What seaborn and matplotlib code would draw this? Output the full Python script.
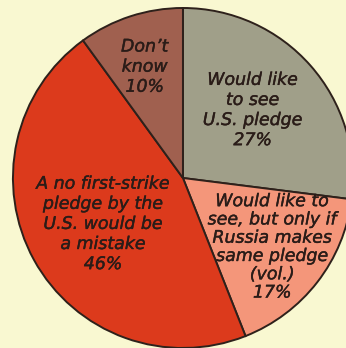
import matplotlib
matplotlib.use("Agg")
import matplotlib.pyplot as plt
import matplotlib.patheffects as pe
import seaborn as sns

# Survey responses on a U.S. no-first-strike pledge
categories = [
    "Would like\nto see\nU.S. pledge",
    "Would like to\nsee, but only if\nRussia makes\nsame pledge\n(vol.)",
    "A no first-strike\npledge by the\nU.S. would be\na mistake",
    "Don\u2019t\nknow",
]
shares = [27, 17, 46, 10]
colors = ["#a09f89", "#f4967a", "#dc3a1c", "#a0604f"]

# label centres (axes data units) and line spacing per wedge
label_xy = [(0.41, 0.40), (0.525, -0.405), (-0.47, -0.27), (-0.225, 0.655)]
label_spacing = [1.15, 1.02, 1.15, 1.15]

sns.set_style("white")
bg = "#f9f8d1"
fig = plt.figure(figsize=(3.46, 3.48), dpi=100, facecolor=bg)
ax = fig.add_axes([0, 0, 1, 1])
ax.set_facecolor(bg)

ax.pie(
    shares,
    colors=sns.color_palette(colors),
    startangle=90,
    counterclock=False,
    radius=1.0,
    wedgeprops=dict(edgecolor="#2e211b", linewidth=1.4),
)

ink = "#2a1c18"
for text, val, (x, y), ls in zip(categories, shares, label_xy, label_spacing):
    ax.text(
        x, y, f"{text}\n{val}%",
        ha="center", va="center", multialignment="center",
        fontsize=12.5, fontstyle="italic", family="DejaVu Sans",
        color=ink, linespacing=ls,
        path_effects=[pe.withStroke(linewidth=0.3, foreground=ink)],
    )

ax.set_xlim(-1.076, 0.959)
ax.set_ylim(-1.0, 1.047)
ax.set_aspect("equal")
ax.axis("off")

fig.savefig("out.png", dpi=100, facecolor=bg)
